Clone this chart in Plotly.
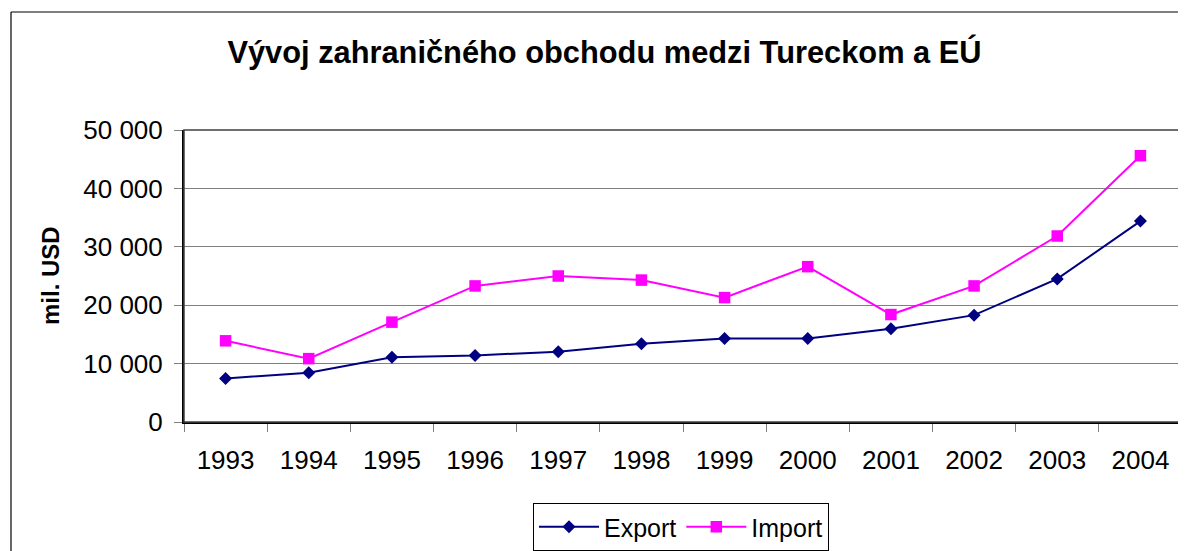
import plotly.graph_objects as go

years = ["1993", "1994", "1995", "1996", "1997", "1998", "1999", "2000", "2001", "2002", "2003", "2004"]
export_vals = [7450, 8450, 11100, 11400, 12050, 13400, 14300, 14300, 15950, 18300, 24500, 34400]
import_vals = [13900, 10850, 17100, 23300, 25000, 24300, 21300, 26600, 18400, 23300, 31850, 45600]
ytick_vals = [0, 10000, 20000, 30000, 40000, 50000]
ytick_text = ["0", "10 000", "20 000", "30 000", "40 000", "50 000"]

# the page body has an 8px margin; the figure is sized so it ends at the window edge
OFF = 8
W, H = 1186 - OFF, 551 - OFF
# plot area in reference (window) pixels: x 184..1182, y 130..422
PL, PR, PT, PB = 184, 1182, 130, 422
L, R, T, B = PL - OFF, (OFF + W) - PR, PT - OFF, (OFF + H) - PB

FONT = "Liberation Sans, Arial, sans-serif"

fig = go.Figure()
fig.add_trace(go.Scatter(
    x=years, y=export_vals, name="Export", mode="lines+markers",
    line=dict(color="#000080", width=2),
    marker=dict(symbol="diamond", size=10, color="#000080"),
))
fig.add_trace(go.Scatter(
    x=years, y=import_vals, name="Import", mode="lines+markers",
    line=dict(color="#FF00FF", width=2),
    marker=dict(symbol="square", size=11.5, color="#FF00FF"),
))

pw = PR - PL
ph = PB - PT

def px_x(x):
    return (x - PL) / pw

def px_y(y):
    return (PB - y) / ph

def cx(x):
    return (x - OFF) / W

def cy(y):
    return 1 - (y - OFF) / H

fig.update_layout(
    width=W, height=H,
    margin=dict(l=L, r=R, t=T, b=B, autoexpand=False),
    paper_bgcolor="white", plot_bgcolor="white",
    font=dict(family=FONT, color="black", size=26),
    title=dict(
        text="<b>Vývoj zahraničného obchodu medzi Tureckom a EÚ</b>",
        font=dict(size=30.8, family=FONT, color="black"),
        x=cx(604.5), xanchor="center", xref="container",
        y=cy(52), yanchor="middle", yref="container",
    ),
    showlegend=True,
    legend=dict(
        orientation="h", x=cx(681), xanchor="center", xref="container",
        y=cy(527), yanchor="middle", yref="container",
        bordercolor="black", borderwidth=1, bgcolor="white",
        font=dict(size=25, family=FONT),
        itemwidth=60,
    ),
    xaxis=dict(
        type="category", tickson="boundaries", ticks="outside", ticklen=8,
        tickcolor="#808080", tickwidth=1,
        showline=True, linecolor="black", linewidth=2, mirror=False,
        showgrid=False, ticklabelstandoff=14, automargin=False,
        tickfont=dict(size=26, family=FONT),
        range=[-0.5, 11.5],
    ),
    yaxis=dict(
        range=[0, 50000], tickvals=ytick_vals, ticktext=ytick_text,
        ticks="outside", ticklen=8, tickcolor="#808080", tickwidth=1,
        showline=True, linecolor="black", linewidth=2,
        showgrid=True, gridcolor="#808080", gridwidth=1,
        zeroline=False, ticklabelstandoff=6, automargin=False,
        tickfont=dict(size=26, family=FONT),
    ),
    annotations=[dict(
        text="<b>mil. USD</b>", textangle=-90, showarrow=False,
        x=px_x(50), y=px_y(276), xref="paper", yref="paper",
        xanchor="center", yanchor="middle",
        font=dict(size=24, family=FONT, color="black"),
    )],
    shapes=[
        # plot area frame
        dict(type="rect", xref="paper", yref="paper", x0=0, x1=1, y0=0, y1=1,
             line=dict(color="#404040", width=1.5), layer="above"),
        # outer chart border (only left and top edges fall inside the picture)
        dict(type="line", xref="paper", yref="paper",
             x0=px_x(11), x1=px_x(11), y0=px_y(560), y1=px_y(12),
             line=dict(color="black", width=1.2)),
        dict(type="line", xref="paper", yref="paper",
             x0=px_x(11), x1=px_x(1190), y0=px_y(12), y1=px_y(12),
             line=dict(color="black", width=1.2)),
    ],
)

fig.write_html("out.html")
